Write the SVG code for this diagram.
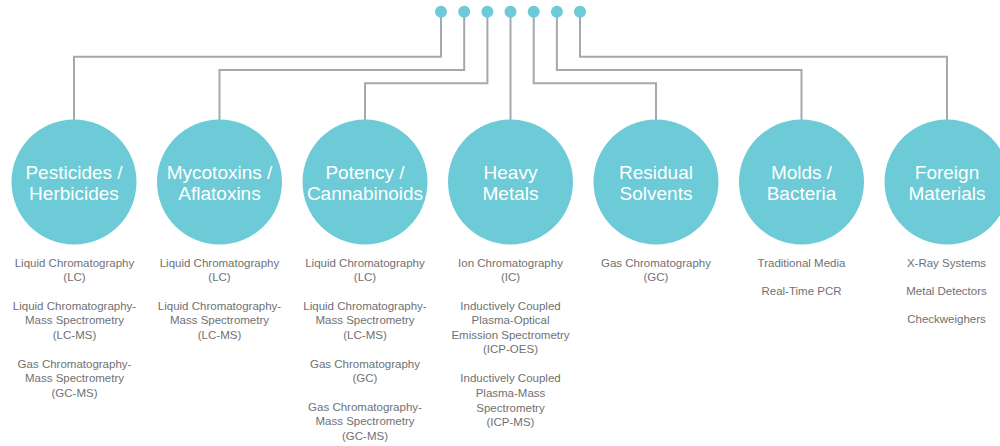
<svg xmlns="http://www.w3.org/2000/svg" width="1000" height="446" viewBox="0 0 1000 446">
<style>
.bg{fill:#ffffff}
.conn{fill:none;stroke:#a4a9ad;stroke-width:2}
.dot{fill:#6ccbd6}
.circ{fill:#6ccbd6}
.title{font-family:"Liberation Sans",Arial,sans-serif;font-size:19px;fill:#ffffff;text-anchor:middle}
.item{font-family:"Liberation Sans",Arial,sans-serif;font-size:11.5px;fill:#6f7173;text-anchor:middle}
</style>
<rect class="bg" x="0" y="0" width="1000" height="446"/>
<g id="connectors">
<path class="conn" d="M441 12 V56.7 H74 V120"/>
<path class="conn" d="M464.2 12 V70 H219.5 V120"/>
<path class="conn" d="M487.4 12 V83.3 H365 V120"/>
<path class="conn" d="M510.5 12 V120"/>
<path class="conn" d="M533.7 12 V83.3 H656 V120"/>
<path class="conn" d="M556.9 12 V70 H801.5 V120"/>
<path class="conn" d="M580 12 V56.7 H947 V120"/>
</g>
<g id="dots">
<circle class="dot" cx="441" cy="11.7" r="6"/>
<circle class="dot" cx="464.2" cy="11.7" r="6"/>
<circle class="dot" cx="487.4" cy="11.7" r="6"/>
<circle class="dot" cx="510.5" cy="11.7" r="6"/>
<circle class="dot" cx="533.7" cy="11.7" r="6"/>
<circle class="dot" cx="556.9" cy="11.7" r="6"/>
<circle class="dot" cx="580" cy="11.7" r="6"/>
</g>
<g id="pesticides">
<circle class="circ" cx="74" cy="182" r="62.5"/>
<text class="title" x="74" y="179">Pesticides /</text>
<text class="title" x="74" y="199.5">Herbicides</text>
<text class="item" x="74.5"><tspan x="74.5" y="266.7">Liquid Chromatography</tspan><tspan x="74.5" y="281">(LC)</tspan><tspan x="74.5" y="309.5">Liquid Chromatography-</tspan><tspan x="74.5" y="324">Mass Spectrometry</tspan><tspan x="74.5" y="338.7">(LC-MS)</tspan><tspan x="74.5" y="367.7">Gas Chromatography-</tspan><tspan x="74.5" y="382.3">Mass Spectrometry</tspan><tspan x="74.5" y="397">(GC-MS)</tspan></text>
</g>
<g id="mycotoxins">
<circle class="circ" cx="219.5" cy="182" r="62.5"/>
<text class="title" x="219.5" y="179">Mycotoxins /</text>
<text class="title" x="219.5" y="199.5">Aflatoxins</text>
<text class="item"><tspan x="219.5" y="266.7">Liquid Chromatography</tspan><tspan x="219.5" y="281">(LC)</tspan><tspan x="219.5" y="309.5">Liquid Chromatography-</tspan><tspan x="219.5" y="324">Mass Spectrometry</tspan><tspan x="219.5" y="338.7">(LC-MS)</tspan></text>
</g>
<g id="potency">
<circle class="circ" cx="365" cy="182" r="62.5"/>
<text class="title" x="365" y="179">Potency /</text>
<text class="title" x="365" y="199.5">Cannabinoids</text>
<text class="item"><tspan x="365" y="266.7">Liquid Chromatography</tspan><tspan x="365" y="281">(LC)</tspan><tspan x="365" y="309.5">Liquid Chromatography-</tspan><tspan x="365" y="324">Mass Spectrometry</tspan><tspan x="365" y="338.7">(LC-MS)</tspan><tspan x="365" y="367.7">Gas Chromatography</tspan><tspan x="365" y="382.3">(GC)</tspan><tspan x="365" y="410.5">Gas Chromatography-</tspan><tspan x="365" y="425">Mass Spectrometry</tspan><tspan x="365" y="439.5">(GC-MS)</tspan></text>
</g>
<g id="heavy-metals">
<circle class="circ" cx="510.5" cy="182" r="62.5"/>
<text class="title" x="510.5" y="179">Heavy</text>
<text class="title" x="510.5" y="199.5">Metals</text>
<text class="item"><tspan x="510.5" y="266.7">Ion Chromatography</tspan><tspan x="510.5" y="281">(IC)</tspan><tspan x="510.5" y="309.5">Inductively Coupled</tspan><tspan x="510.5" y="324">Plasma-Optical</tspan><tspan x="510.5" y="338.7">Emission Spectrometry</tspan><tspan x="510.5" y="353.3">(ICP-OES)</tspan><tspan x="510.5" y="382.3">Inductively Coupled</tspan><tspan x="510.5" y="397">Plasma-Mass</tspan><tspan x="510.5" y="411.7">Spectrometry</tspan><tspan x="510.5" y="426.3">(ICP-MS)</tspan></text>
</g>
<g id="residual-solvents">
<circle class="circ" cx="656" cy="182" r="62.5"/>
<text class="title" x="656" y="179">Residual</text>
<text class="title" x="656" y="199.5">Solvents</text>
<text class="item"><tspan x="656" y="266.7">Gas Chromatography</tspan><tspan x="656" y="281">(GC)</tspan></text>
</g>
<g id="molds-bacteria">
<circle class="circ" cx="801.5" cy="182" r="62.5"/>
<text class="title" x="801.5" y="179">Molds /</text>
<text class="title" x="801.5" y="199.5">Bacteria</text>
<text class="item"><tspan x="801.5" y="266.7">Traditional Media</tspan><tspan x="801.5" y="295">Real-Time PCR</tspan></text>
</g>
<g id="foreign-materials">
<circle class="circ" cx="947" cy="182" r="62.5"/>
<text class="title" x="947" y="179">Foreign</text>
<text class="title" x="947" y="199.5">Materials</text>
<text class="item"><tspan x="946.5" y="266.7">X-Ray Systems</tspan><tspan x="946.5" y="295">Metal Detectors</tspan><tspan x="946.5" y="323.3">Checkweighers</tspan></text>
</g>
</svg>
